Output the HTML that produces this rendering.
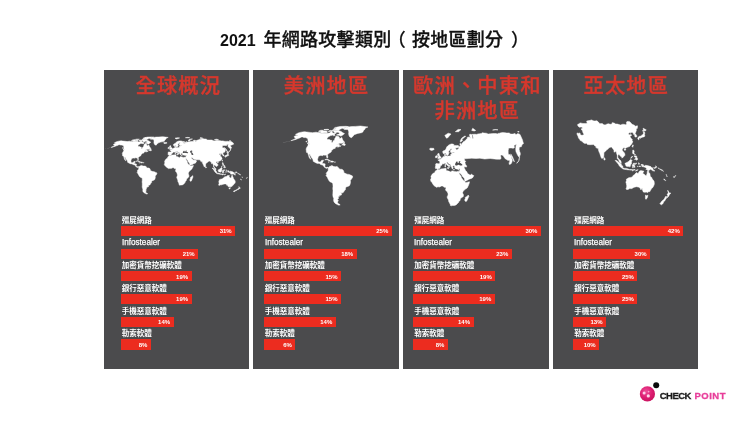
<!DOCTYPE html>
<html lang="zh-Hant"><head><meta charset="utf-8"><title>2021 年網路攻擊類別</title>
<style>
html,body{margin:0;padding:0;background:#fff;}
body{width:750px;height:422px;position:relative;overflow:hidden;font-family:"Liberation Sans","Noto Sans CJK TC",sans-serif;}
.abs{position:absolute;}
.title{position:absolute;left:220px;top:27px;font-size:18px;font-weight:500;-webkit-text-stroke:0.3px #111;color:#111;white-space:nowrap;line-height:26px;letter-spacing:0.3px;}
.title .num{font-size:16px;font-weight:700;-webkit-text-stroke:0;letter-spacing:0;display:inline-block;width:43.4px;}
.title .par{display:inline-block;width:20.4px;text-align:center;font-weight:500;-webkit-text-stroke:0.2px #111;font-size:18px;letter-spacing:0;position:relative;top:0px;}
.title .par i{font-style:normal;position:relative;}
.panel{position:absolute;top:70px;height:299px;background:#4b4b4d;}
.pt{position:absolute;left:0;right:0;text-align:center;color:#d6382d;font-size:20.3px;letter-spacing:1.15px;text-indent:1.15px;line-height:25px;font-weight:500;-webkit-text-stroke:0.35px #d6382d;white-space:nowrap;}
.bar{position:absolute;height:10.3px;background:#ec2c1f;}
.lab{position:absolute;color:#fff;font-size:7.5px;line-height:9px;font-weight:700;white-space:nowrap;}
.lab.en{font-size:9.1px;font-weight:400;transform:scaleX(0.893);transform-origin:0 0;-webkit-text-stroke:0.25px #fff;}
.pc{position:absolute;color:#fff;font-size:6px;line-height:10px;font-weight:700;text-align:right;white-space:nowrap;}
svg{position:absolute;left:0;top:0;}
</style></head><body>
<div class="title"><span class="num">2021 </span>年網路攻擊類別<span class="par"><i style="left:-5px">（</i></span>按地區劃分<span class="par"><i style="left:6.5px">）</i></span></div>
<div class="panel" style="left:104px;width:145px;"><div class="pt" style="top:3.7px;left:2.6px;">全球概況</div></div>
<div class="panel" style="left:253px;width:146px;"><div class="pt" style="top:3.7px;left:0px;">美洲地區</div></div>
<div class="panel" style="left:403px;width:146px;"><div class="pt" style="top:3.7px;left:1.6px;">歐洲、中東和</div><div class="pt" style="top:28.7px;left:1.6px;">非洲地區</div></div>
<div class="panel" style="left:553px;width:145px;"><div class="pt" style="top:3.7px;left:0.6px;">亞太地區</div></div>
<svg width="750" height="422" viewBox="0 0 750 422"><defs><filter id="soft" x="-5%" y="-5%" width="110%" height="110%"><feGaussianBlur stdDeviation="0.35"/></filter></defs>
<g class="map-world" filter="url(#soft)"><path d="M114.5,142.8 116.6,141.7 118.6,141.2 121.1,140.8 122.8,141.1 125.4,141.3 127.1,141.6 129.8,141.2 130.6,141.4 132.1,141.5 133.4,141.9 135.0,142.0 136.7,141.9 138.3,142.0 139.7,141.8 141.0,140.7 141.5,140.6 141.9,141.7 142.7,141.9 143.7,141.4 144.7,141.4 144.7,141.9 142.9,142.6 141.7,143.4 140.5,143.6 139.0,144.5 137.9,145.5 138.1,146.4 139.6,146.6 140.5,147.1 141.5,147.2 141.1,148.1 141.6,148.8 142.1,148.5 142.5,147.4 143.5,146.8 143.7,145.8 144.1,145.1 144.4,144.1 145.8,144.1 147.0,144.7 146.8,145.5 147.6,145.8 148.6,145.1 148.8,145.0 149.3,146.2 149.7,147.0 150.5,147.9 150.8,148.5 149.8,148.8 148.9,149.3 147.0,149.3 146.2,149.6 144.8,150.4 146.9,149.8 146.8,150.6 148.0,151.1 148.5,150.8 148.0,151.3 147.1,151.6 145.8,152.1 146.0,151.5 145.6,151.5 144.3,152.0 143.8,152.7 144.0,152.9 142.5,153.3 142.1,153.8 141.4,154.2 141.1,154.8 141.0,155.5 140.4,155.9 139.5,156.4 138.5,157.2 138.2,157.8 138.5,159.2 138.3,159.8 137.8,159.7 137.5,158.8 137.5,158.1 137.1,157.8 136.5,157.9 135.5,157.7 134.8,157.8 134.9,158.2 134.1,158.1 132.9,158.0 131.6,158.7 131.3,159.5 130.8,161.0 131.3,162.5 131.9,162.8 133.0,162.6 133.7,162.0 133.9,161.6 135.3,161.4 134.9,162.5 134.5,163.1 134.2,163.8 135.4,163.8 136.5,164.2 136.2,165.8 136.7,166.6 137.3,166.8 138.0,166.5 138.9,166.9 138.8,167.3 138.4,166.9 137.7,167.4 137.1,167.2 136.4,167.0 135.6,166.3 135.3,165.6 134.7,165.0 133.6,164.7 132.8,164.4 132.0,163.7 131.0,163.9 129.8,163.4 128.8,162.9 127.6,162.3 127.5,161.4 127.2,160.6 126.5,159.8 126.1,159.0 125.5,158.2 125.3,157.3 124.7,157.1 124.5,157.8 125.1,158.9 125.5,159.9 125.9,160.8 125.7,160.8 125.0,160.1 124.4,159.0 124.2,158.1 123.9,157.2 123.8,156.7 123.4,156.1 122.7,155.9 122.5,154.9 122.5,154.5 122.3,153.5 122.8,152.3 123.7,151.0 123.9,150.1 124.6,150.0 124.8,149.7 124.3,149.2 123.7,148.7 124.0,148.1 123.7,147.4 123.8,146.8 123.5,146.0 123.0,145.5 122.1,145.1 120.6,145.0 119.8,144.7 118.9,144.7 117.5,145.4 116.3,145.8 114.7,146.4 113.0,146.9 111.2,147.4 112.4,146.8 114.3,146.2 115.2,145.6 113.9,145.6 114.1,145.1 113.5,144.7 113.6,144.3 114.6,143.8 116.0,143.6 116.4,143.2 115.4,143.2 114.7,143.0ZM146.4,140.0 147.5,140.3 148.7,140.9 149.6,141.6 150.8,142.2 149.8,143.0 148.8,143.9 148.0,144.1 146.9,143.4 144.9,143.2 146.6,142.6 147.4,141.9 146.1,141.2 143.8,141.2 142.8,140.9 143.2,140.1 144.9,140.0ZM133.0,141.6 134.2,141.7 135.9,141.7 138.0,141.6 138.0,140.6 136.7,140.2 134.5,140.2 133.3,140.7ZM131.5,140.6 132.2,140.8 133.8,140.6 135.2,139.9 134.1,139.7 132.6,139.9ZM144.1,139.1 147.1,139.2 148.8,138.6 150.4,138.1 153.9,137.2 151.9,136.9 147.5,137.1 145.0,137.6 145.5,138.2ZM142.1,139.6 146.6,139.7 147.0,139.2 143.5,139.1ZM135.5,139.6 138.6,139.6 139.3,139.2 138.0,139.1 135.6,139.2ZM142.8,138.6 145.3,138.5 146.0,137.7 144.0,137.7ZM138.8,140.7 140.4,140.7 141.3,140.1 140.2,139.9 139.2,140.2ZM141.1,140.5 142.8,140.4 143.2,139.9 141.6,139.9ZM141.9,143.0 142.9,143.9 143.9,143.4 143.2,142.6ZM148.9,150.3 150.3,150.7 151.2,150.7 151.4,150.3 151.3,149.6 150.5,149.3 150.8,148.7 150.2,148.9 149.6,149.6ZM123.2,149.0 124.2,149.3 124.4,150.0 123.7,149.9ZM122.4,147.7 122.9,147.7 122.6,148.4 122.3,148.1ZM149.8,138.5 150.7,139.2 153.2,139.2 153.9,140.2 154.0,141.2 153.9,142.2 154.1,143.4 154.8,144.7 156.0,145.2 157.0,144.3 158.0,143.0 160.6,142.1 163.4,141.6 164.5,141.1 164.7,140.2 165.8,139.2 166.3,138.2 168.2,137.4 165.4,137.1 162.7,136.7 158.9,137.0 156.0,137.1 153.8,137.4 152.1,137.7 151.5,138.2ZM138.9,166.9 139.7,166.0 140.8,165.7 141.4,165.3 141.4,165.9 142.0,165.5 142.9,166.1 144.3,166.1 145.4,166.0 146.2,166.9 147.5,168.0 148.7,168.0 149.8,168.6 150.4,169.9 150.4,170.5 151.3,170.9 152.8,171.6 154.2,171.7 155.7,172.4 156.7,172.8 156.9,173.7 156.0,175.2 155.2,176.0 155.3,177.7 154.9,179.0 154.5,179.8 153.7,180.2 152.5,180.7 151.5,181.5 151.6,182.6 150.7,183.6 149.9,184.9 149.0,185.2 148.0,184.9 148.7,185.9 148.4,186.7 146.9,187.0 147.0,187.8 145.9,187.8 146.5,188.6 146.2,189.5 145.5,190.0 146.3,190.7 145.7,191.7 145.8,192.5 146.1,192.7 147.7,193.7 146.7,194.0 145.5,193.6 144.0,192.7 143.0,191.7 142.8,190.4 142.9,189.1 142.4,188.1 142.2,186.6 142.3,185.3 142.3,183.6 142.1,181.9 142.3,180.2 142.2,178.3 141.4,177.7 140.0,177.0 139.4,176.3 138.9,175.4 138.1,173.9 137.5,173.0 137.1,172.4 137.6,171.8 137.3,170.9 137.6,170.3 138.1,169.9 138.7,168.8 138.8,167.3ZM136.1,161.3 137.2,160.8 138.3,160.8 139.5,161.4 140.2,161.8 140.6,162.0 139.2,162.1 139.1,161.7 138.6,161.4 137.4,161.1 136.5,161.3ZM140.4,162.7 141.1,162.1 141.6,162.1 142.3,162.2 142.9,162.6 142.3,162.8 141.6,163.0 141.2,162.8ZM138.8,162.7 139.6,162.8 139.2,163.0ZM143.4,162.7 144.1,162.7 144.0,162.9 143.4,162.9ZM168.1,154.8 167.9,154.1 168.2,153.2 168.1,152.3 168.6,152.0 170.1,152.1 171.0,152.1 171.2,151.5 171.2,151.0 170.7,150.5 169.9,150.2 170.0,149.9 171.1,149.9 171.1,149.5 171.2,149.6 171.8,149.6 172.3,149.3 172.3,148.9 173.0,148.7 173.4,148.3 173.6,148.0 174.3,147.9 174.9,147.7 174.9,147.2 174.7,146.6 174.8,146.3 175.5,146.1 175.5,146.6 175.4,147.1 175.8,147.5 176.3,147.5 176.9,147.7 177.8,147.4 178.5,147.4 178.9,147.5 179.4,147.2 179.3,146.4 179.8,146.1 180.5,146.3 180.4,145.8 180.1,145.5 181.0,145.3 181.7,145.3 182.4,145.1 181.8,144.9 180.9,145.0 179.9,145.2 179.3,144.9 179.2,144.3 179.2,143.8 180.1,143.1 180.3,142.8 179.7,142.7 179.2,142.8 179.0,143.2 178.3,143.8 177.8,144.5 177.8,144.9 178.4,145.2 178.0,145.7 177.7,146.2 177.5,146.7 176.9,147.0 176.5,147.1 176.3,146.7 175.8,145.8 175.5,145.4 175.1,145.6 174.4,146.0 173.7,145.7 173.5,144.9 173.5,144.3 174.1,143.9 175.0,143.6 175.6,143.0 176.1,142.4 176.5,141.9 177.3,141.6 178.1,141.2 179.2,141.0 180.0,140.9 180.8,140.9 181.8,141.1 181.6,141.3 182.6,141.4 183.6,141.5 185.1,142.0 185.6,142.3 185.2,142.5 184.6,142.5 183.2,142.3 182.6,142.2 183.5,142.8 183.7,143.3 184.5,143.4 184.7,143.1 185.4,143.2 185.3,142.7 185.9,142.4 186.7,142.5 186.4,142.1 186.1,141.7 187.0,141.8 187.2,142.2 187.7,142.0 189.3,141.7 189.8,141.8 190.9,141.6 191.7,141.6 191.7,141.3 193.0,141.5 193.9,141.6 194.5,141.8 193.8,141.4 193.4,141.0 193.6,140.4 193.9,140.1 194.8,140.3 195.3,140.9 195.5,141.6 196.0,142.1 196.3,141.7 195.9,140.9 195.3,140.6 195.7,140.4 196.6,140.5 197.4,140.5 197.2,140.1 198.5,140.0 198.8,139.6 199.6,139.4 201.0,139.2 202.3,139.1 203.1,138.7 204.3,138.9 206.0,139.1 206.9,139.4 206.4,139.9 207.4,140.0 209.1,140.1 210.9,140.0 211.9,140.1 213.4,140.7 214.3,141.0 214.7,140.7 216.3,140.7 216.4,140.3 218.2,140.5 220.1,140.7 221.4,140.9 223.0,140.9 224.3,141.3 226.0,141.4 227.5,141.3 228.2,141.6 229.5,141.3 231.2,141.6 233.2,142.9 233.2,143.2 233.8,144.1 232.7,144.4 232.2,145.1 230.7,145.1 230.5,146.0 231.0,146.8 231.4,147.3 231.4,148.1 230.9,148.2 230.9,149.0 229.5,148.1 228.2,146.8 228.0,146.0 228.1,145.0 228.5,144.1 227.8,144.4 226.7,144.5 227.0,145.3 226.1,145.5 224.6,145.4 222.8,145.4 222.4,146.2 222.3,147.2 222.5,147.7 223.8,147.9 224.7,148.5 224.9,149.1 225.4,150.2 225.2,151.0 224.8,151.9 224.1,152.4 223.3,152.4 223.2,152.6 223.1,152.7 223.2,153.4 222.6,153.8 223.3,154.4 224.1,155.3 224.1,155.7 223.1,155.9 222.8,155.3 222.7,154.6 221.9,154.4 221.7,153.8 221.2,153.6 220.2,153.4 220.2,154.0 220.0,153.2 219.3,153.9 218.8,154.1 219.6,154.7 220.4,154.6 221.1,154.8 220.4,155.3 220.1,155.7 220.9,156.5 221.7,157.2 221.5,157.6 222.0,157.9 222.0,158.7 221.5,159.5 220.9,160.2 220.4,160.8 219.4,161.1 218.2,161.5 217.9,161.9 217.6,161.4 216.9,161.4 216.4,162.0 216.1,162.5 216.8,163.3 217.7,164.2 218.0,165.2 217.5,165.8 217.0,166.1 216.3,166.8 216.2,166.3 215.4,165.8 214.9,165.2 214.4,164.9 214.0,164.9 213.8,165.8 213.9,166.5 214.4,167.1 214.6,167.6 215.2,168.0 215.7,168.6 215.8,169.4 216.1,169.9 215.7,170.0 214.8,169.3 214.5,168.4 214.3,167.8 213.8,167.2 213.5,167.0 213.5,166.3 213.5,165.4 213.0,164.2 212.8,163.5 212.2,163.4 211.5,163.7 211.5,162.9 211.0,162.1 210.2,161.4 210.1,161.0 209.6,161.1 209.0,161.3 208.1,161.5 208.0,162.0 207.4,162.3 206.4,163.3 205.6,163.9 205.6,165.0 205.6,166.1 205.2,166.6 204.9,166.8 204.6,167.1 204.2,166.7 203.7,165.6 203.2,164.4 202.7,163.5 202.3,162.5 202.2,161.6 201.9,161.6 201.5,161.7 200.6,161.1 201.1,160.8 200.3,160.6 199.8,160.1 199.4,159.8 197.3,159.8 195.8,159.7 195.3,159.1 194.3,159.2 193.5,158.9 192.5,158.0 191.9,157.6 191.5,157.8 191.7,158.4 192.5,159.2 192.6,159.7 193.0,159.5 193.2,160.1 194.2,160.3 195.0,159.4 195.3,160.1 196.1,160.5 196.7,161.0 196.2,161.8 196.0,162.5 195.5,162.9 194.9,163.3 193.6,163.7 192.4,164.5 190.8,165.1 190.1,165.1 189.7,164.2 189.6,163.4 188.9,162.5 188.0,161.4 187.8,160.6 187.1,159.7 186.2,158.7 186.1,158.0 185.9,158.7 185.6,158.5 185.1,157.8 185.0,157.3 185.7,157.3 185.9,156.8 186.2,156.1 186.3,155.4 186.2,154.9 185.6,154.9 184.8,155.2 184.0,155.1 183.4,155.1 182.8,154.8 182.3,154.2 182.4,153.8 182.1,153.6 182.0,153.2 181.2,153.2 181.1,153.6 180.7,153.4 180.9,154.0 181.3,154.4 181.0,154.6 181.0,155.1 180.6,155.0 180.3,154.6 180.1,154.0 179.5,153.5 179.4,152.8 179.0,152.5 178.0,152.1 177.6,151.7 177.2,151.4 177.0,151.2 176.5,151.3 176.6,151.9 177.1,152.1 177.6,152.7 178.1,152.8 179.1,153.5 178.9,153.6 178.5,153.4 178.3,153.8 178.6,154.0 178.1,154.4 178.0,154.4 178.1,154.0 177.9,153.6 177.5,153.3 176.9,153.1 176.2,152.6 175.7,152.1 175.2,151.8 174.6,152.0 174.3,152.3 173.7,152.1 173.2,152.1 172.9,152.5 173.0,152.8 172.1,153.2 171.7,153.7 171.6,154.1 171.4,154.6 170.9,154.9 169.9,155.0 169.5,155.3 169.2,155.0 168.9,154.8ZM169.3,155.4 170.9,155.6 172.1,155.1 173.7,154.9 175.7,154.7 176.1,154.9 175.9,156.1 176.2,156.5 177.8,156.8 179.5,157.7 179.9,157.4 180.1,156.7 181.1,156.7 181.9,157.1 183.6,157.4 184.8,157.3 185.1,157.9 185.6,158.7 186.3,160.1 187.2,161.6 187.4,162.7 188.2,163.9 189.0,164.8 190.0,165.2 190.1,165.6 190.8,166.1 192.0,165.8 193.4,165.5 193.3,166.1 192.5,167.8 191.7,169.2 190.4,170.3 189.4,171.3 188.7,172.2 188.3,173.2 188.5,174.3 188.9,175.2 188.9,176.8 187.7,177.9 186.6,179.0 186.4,180.4 185.4,181.3 185.3,182.1 184.5,183.2 183.3,184.4 182.2,184.9 180.7,185.0 179.8,185.2 179.2,185.0 179.1,184.0 178.5,182.6 177.9,181.5 177.8,180.0 177.0,178.3 176.7,177.3 177.4,175.6 177.3,174.3 176.9,173.0 176.7,172.4 175.7,171.6 175.5,170.7 175.7,170.1 175.9,169.2 175.4,168.6 174.7,168.6 174.0,168.3 173.6,167.8 172.6,167.8 171.1,168.4 170.0,168.3 168.5,168.6 167.7,168.0 166.8,167.5 166.1,166.7 165.4,165.9 164.6,165.3 164.3,164.3 164.7,163.5 164.8,162.5 164.6,161.6 165.0,160.6 165.7,159.5 166.3,158.8 166.9,158.5 167.6,158.0 167.7,157.2 168.2,156.4 168.9,156.0ZM192.6,175.6 193.0,177.1 192.5,177.9 192.0,179.4 191.3,181.1 190.4,181.3 189.9,180.4 189.9,179.6 190.4,178.7 190.2,177.7 190.9,177.3 191.8,176.6ZM169.6,149.3 170.4,149.2 171.7,149.0 172.2,148.8 172.0,148.7 172.3,148.2 171.8,148.1 171.7,147.8 171.3,147.4 171.1,146.9 170.6,146.8 171.0,146.1 170.3,146.1 170.6,145.7 169.9,145.7 169.5,146.2 169.7,146.8 169.9,147.3 170.5,147.3 170.6,147.9 170.0,148.0 170.0,148.5 169.7,148.6 170.4,148.7 170.5,148.8ZM167.9,148.6 168.7,148.6 169.3,148.4 169.5,147.9 169.6,147.4 168.9,147.1 168.6,147.4 168.0,147.6 168.2,148.1ZM163.5,142.8 164.1,143.4 165.1,143.6 166.5,143.3 167.1,142.9 166.6,142.5 165.6,142.5 164.1,142.4ZM175.0,138.2 176.3,138.9 177.5,138.7 178.3,138.4 179.6,137.9 177.5,137.7ZM188.4,140.9 189.3,141.0 190.3,140.7 189.5,140.2 190.4,139.6 192.5,139.0 191.8,138.9 189.6,139.2 188.5,140.1ZM199.9,138.2 201.8,138.6 202.9,138.2 200.7,137.6ZM214.4,139.6 216.7,139.9 218.5,139.6 216.4,139.2ZM185.4,137.7 187.9,137.9 189.7,137.6 187.6,137.4ZM229.6,140.9 230.6,140.9 230.5,140.7 229.5,140.7ZM224.2,147.5 225.5,148.5 226.4,149.6 227.0,150.8 226.8,151.0 225.9,149.8 224.9,148.5ZM176.7,154.4 177.9,154.3 177.8,155.0 176.7,154.6ZM175.0,153.2 175.5,153.2 175.5,153.9 175.1,154.0ZM175.1,152.5 175.4,152.3 175.5,152.9 175.1,152.8ZM181.2,155.5 182.4,155.6 181.4,155.7ZM184.8,155.7 185.7,155.4 185.3,155.8ZM228.7,151.7 229.9,151.0 230.4,150.2 230.8,149.1 230.6,149.1 230.3,150.3 229.8,151.2 228.8,151.8ZM227.1,152.9 227.4,152.5 228.3,152.7 228.8,152.2 228.0,151.8 226.8,151.3 227.3,152.2 226.8,152.4ZM225.0,156.1 225.5,156.2 226.6,155.9 227.1,156.3 227.4,155.8 228.1,155.8 228.5,155.6 228.7,155.4 228.3,154.4 228.4,153.8 227.8,153.0 227.4,153.2 227.5,153.7 227.6,154.2 227.1,154.8 226.8,154.8 226.7,155.3 225.6,155.5 225.0,155.9ZM224.7,156.3 225.4,156.2 225.6,157.2 225.3,157.3 224.9,156.8ZM225.7,156.1 226.4,156.0 226.5,156.4 226.0,156.6ZM222.3,159.8 222.5,160.0 222.3,161.2 221.9,160.8ZM217.5,162.0 218.3,162.0 218.2,162.7 217.5,162.7ZM205.7,166.4 206.5,167.3 206.1,168.0 205.7,168.0 205.6,167.1ZM222.4,162.7 223.1,162.7 223.3,163.5 223.1,164.2 223.6,164.6 224.2,165.1 224.0,165.1 223.3,164.7 222.8,164.7 222.4,164.2 222.4,163.5ZM223.6,167.5 224.2,166.9 225.0,166.4 225.4,167.1 225.3,167.8 225.0,168.1 224.4,167.6ZM223.4,165.5 224.3,165.6 224.9,165.8 224.8,166.3 224.1,166.5 223.7,166.3ZM221.5,166.9 222.4,166.1 222.3,165.7 221.4,166.8ZM218.1,169.9 218.5,169.8 219.1,169.4 219.8,169.1 220.4,168.5 221.0,167.8 221.4,167.5 221.7,167.8 222.3,168.3 221.9,168.7 221.8,169.2 222.0,170.1 221.8,170.5 221.3,171.1 221.2,172.0 220.6,172.2 220.2,171.9 219.4,171.9 218.6,171.7 218.5,171.0 218.1,170.5ZM212.2,168.1 213.2,168.3 214.3,169.2 214.9,169.7 215.8,170.5 216.2,171.3 216.8,171.9 216.7,173.0 216.1,173.0 215.2,172.2 214.7,171.6 214.4,170.9 213.9,170.2 213.4,169.4 212.8,168.9ZM216.5,173.4 217.0,173.0 217.8,173.2 218.8,173.2 219.6,173.5 220.4,173.8 220.3,174.2 218.8,174.0 217.6,173.8 216.9,173.6ZM220.6,174.0 221.4,174.0 222.2,174.1 223.1,174.1 223.9,174.0 223.9,174.2 222.7,174.3 221.4,174.3 220.5,174.2ZM224.1,174.9 224.8,174.3 225.7,174.1 225.4,174.4 224.5,174.8ZM222.2,174.5 223.0,174.6 222.6,174.9ZM222.7,170.6 222.9,170.2 223.2,170.0 224.1,170.1 224.9,169.8 224.7,170.3 224.1,170.3 223.2,170.3 222.9,170.9 223.4,170.9 224.2,170.8 224.0,171.1 223.4,171.3 223.8,171.9 224.0,172.4 223.8,172.7 223.5,172.5 223.2,171.8 222.9,172.0 222.9,172.8 222.5,172.8 222.6,172.0 222.3,171.7 222.5,171.0ZM226.0,169.7 226.4,169.9 226.5,170.4 226.2,170.8 226.1,170.3ZM226.2,171.8 227.4,171.9 227.0,172.1 226.3,172.0ZM225.3,171.9 225.8,171.9 225.8,172.1 225.3,172.1ZM227.5,170.8 228.1,170.7 228.8,170.8 229.2,171.9 230.3,171.3 231.7,171.6 233.2,172.1 233.8,172.8 234.6,173.0 234.2,173.4 234.8,174.3 235.6,174.9 234.9,174.9 234.1,174.6 233.1,173.8 232.4,174.3 231.6,174.3 230.8,173.9 230.3,174.1 230.7,173.4 230.4,172.8 229.4,172.4 228.5,172.1 228.2,172.2 227.9,171.7 228.6,171.5 228.0,171.4 227.5,171.1ZM234.8,172.9 235.5,172.8 236.2,172.3 236.5,172.3 236.3,172.8 235.7,173.1 235.1,173.1ZM235.9,171.6 236.4,171.9 236.8,172.4 236.7,172.5 236.2,171.9ZM237.5,172.8 237.9,173.2 237.8,173.4 237.5,173.0ZM238.2,173.5 238.6,173.7 239.5,174.0 239.6,174.1 238.8,174.0 238.2,173.6ZM239.5,174.4 239.9,174.6 239.6,174.7ZM240.0,174.1 240.3,174.5 240.0,174.5ZM240.2,174.9 240.5,175.1 240.3,175.1ZM242.1,176.8 242.3,177.1 242.1,177.1ZM242.3,177.3 242.6,177.9 242.3,177.6ZM240.5,179.0 241.1,179.4 241.6,179.9 241.3,180.0 240.8,179.6 240.5,179.2ZM246.4,177.9 246.9,177.9 246.8,178.2 246.3,178.2ZM247.1,177.5 247.6,177.4 247.4,177.6ZM219.2,179.8 219.4,179.7 220.6,179.2 221.7,179.0 222.7,178.7 223.2,177.9 223.7,177.8 224.5,177.1 225.2,176.4 225.8,176.8 226.4,176.8 226.7,176.0 227.2,175.7 227.9,175.4 229.1,175.6 229.6,175.7 229.2,176.2 228.9,176.8 229.7,177.3 230.4,177.9 231.0,177.9 231.5,176.8 231.6,175.9 232.1,175.1 232.5,175.8 232.5,176.5 233.1,176.8 233.2,177.9 233.3,178.5 234.0,179.0 234.3,179.8 234.7,180.2 235.2,181.1 235.2,181.9 235.2,182.6 234.6,183.6 233.8,184.5 233.1,185.0 232.5,185.7 232.0,186.4 231.2,186.5 230.3,187.0 230.0,186.7 229.4,186.7 228.6,186.7 228.1,186.6 228.0,185.9 227.8,185.5 227.8,185.0 228.0,184.5 227.5,184.9 227.2,185.4 226.8,185.3 226.8,184.9 226.5,184.4 225.8,184.0 224.6,183.9 223.3,184.2 222.3,184.5 222.0,184.8 220.6,184.8 219.6,185.3 218.8,185.3 218.5,185.0 219.0,184.0 219.1,183.2 218.9,182.1 218.8,181.5 219.2,180.7ZM229.2,187.7 229.8,187.9 230.6,187.8 230.2,188.4 229.4,188.9 229.0,188.9 229.0,188.5ZM238.9,186.6 239.1,186.8 239.3,187.4 239.5,187.5 239.5,187.9 240.3,187.9 240.5,187.9 239.8,188.6 239.4,188.6 239.1,189.0 238.1,189.6 237.9,189.5 238.5,189.0 238.2,188.7 238.2,188.6 238.7,188.3 239.0,187.8 238.9,187.0ZM237.4,189.1 237.8,189.4 237.6,189.7 236.7,190.2 236.4,190.5 235.7,190.7 235.2,191.2 234.8,191.5 234.0,191.7 233.6,191.5 233.3,191.4 234.0,191.0 234.7,190.6 235.8,190.2 236.5,189.8 237.0,189.3Z" fill="#fff" stroke="#fff" stroke-width="0.5" stroke-linejoin="round"/><path d="M182.7,152.5 182.9,151.9 183.3,151.4 183.5,151.0 184.0,150.8 184.7,151.0 184.4,151.3 184.8,151.7 185.4,151.5 185.9,151.3 185.3,151.0 186.4,150.6 186.8,150.6 186.3,151.2 186.3,151.6 187.2,152.0 188.1,152.5 188.1,152.9 187.4,153.2 186.4,153.1 185.7,152.9 184.9,152.7 184.2,153.1 183.2,153.1 182.8,152.8ZM190.0,151.5 190.7,150.8 191.6,150.6 192.2,150.8 192.4,151.5 191.6,151.7 191.5,152.3 192.4,152.7 192.8,153.4 193.2,154.0 193.4,154.8 192.3,155.0 191.4,154.6 191.3,154.0 191.4,153.4 190.4,152.5Z" fill="#4b4b4d"/><path d="M111.3,147.3 109.8,147.7 108.3,148.1 106.5,148.4 105.2,148.5 105.1,148.7 106.4,148.5 108.1,148.3 109.5,148.0 111.1,147.5Z" fill="#fff" opacity="0.45"/></g>
<g class="map-amer" filter="url(#soft)"><path d="M295.5,134.4 298.3,132.9 301.1,132.2 304.4,131.7 306.7,132.0 310.2,132.4 312.5,132.7 316.1,132.2 317.2,132.5 319.3,132.6 320.9,133.2 323.1,133.3 325.4,133.2 327.6,133.3 329.5,133.1 331.3,131.6 331.9,131.3 332.4,132.8 333.5,133.2 334.9,132.5 336.2,132.5 336.2,133.2 333.8,134.1 332.2,135.3 330.6,135.6 328.5,136.7 327.0,138.2 327.3,139.4 329.4,139.6 330.5,140.3 331.9,140.5 331.4,141.7 332.0,142.7 332.7,142.3 333.3,140.8 334.6,139.9 334.8,138.5 335.5,137.6 335.9,136.3 337.8,136.3 339.3,137.0 339.1,138.2 340.1,138.6 341.5,137.6 341.8,137.4 342.4,139.1 342.9,140.2 344.0,141.4 344.4,142.3 343.1,142.7 341.9,143.3 339.4,143.3 338.2,143.9 336.3,144.9 339.2,144.0 339.1,145.2 340.7,145.9 341.3,145.5 340.6,146.2 339.5,146.6 337.7,147.3 337.9,146.4 337.4,146.5 335.6,147.1 335.1,148.1 335.3,148.3 333.2,148.9 332.8,149.6 331.8,150.2 331.3,151.1 331.3,151.9 330.4,152.5 329.2,153.2 327.8,154.3 327.5,155.1 327.9,157.0 327.5,158.0 326.9,157.8 326.5,156.5 326.6,155.6 326.0,155.1 325.1,155.3 323.8,155.0 322.9,155.1 323.0,155.7 322.0,155.6 320.4,155.4 318.5,156.3 318.1,157.5 317.5,159.5 318.2,161.6 319.0,162.1 320.5,161.8 321.4,161.0 321.6,160.4 323.5,160.1 323.0,161.6 322.5,162.5 322.1,163.5 323.7,163.5 325.2,163.9 324.8,166.3 325.4,167.3 326.3,167.6 327.1,167.1 328.4,167.7 328.2,168.3 327.7,167.7 326.8,168.4 325.9,168.1 325.1,167.8 324.0,166.8 323.5,166.0 322.7,165.1 321.3,164.7 320.2,164.2 319.2,163.3 317.7,163.5 316.1,162.9 314.8,162.2 313.2,161.3 313.1,160.1 312.7,159.0 311.7,157.9 311.2,156.7 310.3,155.7 310.1,154.4 309.2,154.2 309.0,155.1 309.8,156.6 310.3,158.1 310.9,159.2 310.7,159.3 309.7,158.3 308.9,156.8 308.7,155.6 308.2,154.3 308.0,153.6 307.6,152.8 306.6,152.5 306.3,151.2 306.3,150.6 306.1,149.1 306.7,147.5 307.9,145.7 308.2,144.4 309.2,144.3 309.4,143.9 308.7,143.3 307.9,142.6 308.3,141.7 307.9,140.8 308.0,139.9 307.7,138.8 307.0,138.2 305.8,137.6 303.7,137.5 302.7,137.0 301.5,137.0 299.6,138.0 298.0,138.5 295.8,139.4 293.6,140.1 291.0,140.7 292.7,139.9 295.3,139.1 296.5,138.3 294.8,138.3 295.0,137.6 294.1,137.0 294.3,136.4 295.7,135.7 297.5,135.6 298.1,135.0 296.7,135.0 295.9,134.7ZM338.5,130.5 340.0,131.0 341.6,131.8 342.8,132.7 344.5,133.6 343.1,134.7 341.7,135.8 340.6,136.1 339.2,135.3 336.5,135.0 338.8,134.1 339.8,133.2 338.2,132.2 335.1,132.2 333.7,131.8 334.2,130.6 336.4,130.5ZM320.5,132.7 322.0,132.9 324.4,132.8 327.2,132.7 327.1,131.3 325.4,130.9 322.4,130.9 320.8,131.6ZM318.5,131.3 319.4,131.7 321.5,131.3 323.4,130.4 321.9,130.2 320.0,130.4ZM335.4,129.3 339.5,129.4 341.8,128.6 343.9,127.9 348.6,126.7 345.9,126.3 339.9,126.5 336.6,127.2 337.3,128.1ZM332.7,129.9 338.8,130.2 339.4,129.5 334.6,129.3ZM323.9,129.9 328.0,130.0 329.0,129.5 327.2,129.3 324.0,129.5ZM333.7,128.6 337.0,128.4 338.0,127.4 335.2,127.4ZM328.2,131.6 330.4,131.6 331.6,130.6 330.2,130.4 328.9,130.9ZM331.3,131.2 333.6,131.1 334.2,130.4 332.1,130.4ZM332.5,134.7 333.7,135.8 335.2,135.3 334.2,134.1ZM341.9,144.8 343.7,145.3 345.0,145.4 345.3,144.8 345.1,143.9 344.1,143.4 344.5,142.5 343.6,142.9 342.8,143.7ZM307.3,143.0 308.6,143.4 308.9,144.4 308.0,144.2ZM306.2,141.1 306.8,141.2 306.4,142.2 306.0,141.7ZM343.1,128.5 344.4,129.5 347.7,129.5 348.6,130.9 348.8,132.2 348.6,133.6 348.9,135.3 349.8,137.0 351.5,137.7 352.8,136.4 354.2,134.7 357.7,133.4 361.5,132.7 362.9,132.0 363.2,130.9 364.7,129.5 365.4,128.1 367.9,127.0 364.1,126.5 360.5,126.0 355.4,126.4 351.4,126.6 348.5,127.0 346.2,127.4 345.4,128.1ZM328.4,167.7 329.5,166.4 330.9,166.1 331.8,165.4 331.7,166.4 332.6,165.8 333.7,166.6 335.7,166.7 337.2,166.4 338.3,167.7 339.9,169.2 341.7,169.3 343.1,170.1 343.9,171.8 343.9,172.7 345.1,173.3 347.1,174.2 349.1,174.4 351.1,175.3 352.4,175.9 352.7,177.1 351.5,179.1 350.4,180.3 350.5,182.6 350.0,184.4 349.5,185.6 348.4,186.2 346.7,186.7 345.4,187.9 345.5,189.4 344.4,190.8 343.2,192.6 341.9,193.1 340.6,192.6 341.6,193.9 341.3,195.1 339.2,195.5 339.3,196.6 337.8,196.7 338.6,197.7 338.2,199.0 337.3,199.6 338.4,200.7 337.5,201.9 337.7,203.1 338.2,203.4 340.2,204.8 339.0,205.2 337.3,204.6 335.3,203.4 334.0,201.9 333.6,200.2 333.8,198.4 333.1,197.0 332.8,194.9 332.9,193.2 333.0,190.8 332.8,188.5 333.0,186.2 332.8,183.5 331.7,182.6 329.9,181.7 329.1,180.8 328.3,179.4 327.4,177.4 326.5,176.2 326.0,175.3 326.7,174.5 326.2,173.3 326.7,172.4 327.4,171.8 328.2,170.4 328.2,168.3ZM324.7,159.9 326.2,159.2 327.6,159.2 329.1,160.1 330.2,160.7 330.6,160.9 328.8,161.1 328.7,160.6 328.0,160.1 326.4,159.7 325.2,159.9ZM330.4,161.9 331.3,161.1 332.0,161.1 333.0,161.2 333.8,161.8 332.9,162.0 332.0,162.3 331.5,162.1ZM328.2,161.9 329.3,162.1 328.8,162.3ZM334.5,161.9 335.4,161.9 335.3,162.2 334.5,162.2Z" fill="#fff" stroke="#fff" stroke-width="0.5" stroke-linejoin="round"/><path d="M291.1,140.6 289.1,141.2 287.2,141.7 284.8,142.1 283.0,142.3 282.8,142.6 284.6,142.3 286.9,142.0 288.8,141.5 290.9,140.9Z" fill="#fff" opacity="0.45"/></g>
<g class="map-emea" filter="url(#soft)"><path d="M435.5,168.6 435.3,167.3 435.7,165.6 435.6,164.1 436.2,163.5 438.3,163.7 439.5,163.8 439.8,162.6 439.8,161.7 439.1,160.8 438.0,160.3 438.1,159.9 439.6,159.8 439.5,159.0 439.8,159.2 440.5,159.2 441.2,158.7 441.3,158.2 442.2,157.9 442.7,157.2 442.9,156.8 443.9,156.6 444.6,156.4 444.7,155.7 444.4,154.8 444.5,154.4 445.5,154.0 445.4,154.8 445.3,155.5 445.8,156.1 446.6,156.1 447.3,156.3 448.6,156.0 449.5,155.9 450.0,156.1 450.8,155.7 450.6,154.5 451.3,154.0 452.2,154.3 452.1,153.7 451.6,153.1 452.8,152.9 453.8,152.9 454.7,152.6 453.9,152.3 452.7,152.4 451.4,152.7 450.6,152.3 450.4,151.4 450.4,150.6 451.6,149.7 451.9,149.0 451.1,148.8 450.4,149.0 450.2,149.8 449.2,150.6 448.5,151.7 448.6,152.3 449.4,152.7 448.8,153.4 448.4,154.2 448.2,155.0 447.4,155.4 446.8,155.5 446.6,155.0 445.8,153.5 445.4,153.0 445.0,153.3 444.0,153.8 443.1,153.4 442.8,152.3 442.7,151.4 443.7,150.7 444.8,150.3 445.7,149.5 446.3,148.1 446.9,146.8 447.9,145.8 449.0,144.9 450.4,144.3 451.5,143.9 452.6,144.0 454.0,144.6 453.6,145.2 454.9,145.5 456.3,145.4 458.3,145.6 459.0,146.3 458.5,147.2 457.6,147.8 455.7,147.9 455.0,147.7 456.1,149.0 456.4,149.9 457.5,149.7 457.8,149.0 458.8,148.7 458.6,147.6 459.4,146.4 460.4,146.1 460.1,144.8 459.7,143.8 460.9,143.5 461.1,144.9 461.9,143.6 463.9,141.3 464.7,141.2 466.1,139.5 467.2,138.8 467.2,137.4 468.9,137.0 470.1,137.6 470.9,138.4 469.9,136.6 469.5,135.2 469.7,134.3 470.1,134.3 471.3,134.3 472.0,135.0 472.2,137.3 472.9,139.3 473.3,138.0 472.8,135.0 472.0,134.2 472.5,134.3 473.7,134.3 474.7,134.3 474.5,134.3 476.3,134.3 476.7,134.4 477.7,134.0 479.6,133.8 481.4,133.4 482.4,132.7 484.0,133.1 486.3,133.2 487.5,133.8 486.8,134.1 488.2,134.0 490.4,133.8 492.8,133.6 494.2,133.5 496.1,133.6 497.4,134.1 497.9,133.4 500.0,133.2 500.2,132.9 502.6,132.6 505.2,132.8 506.9,133.1 509.1,132.9 510.7,134.1 513.0,134.1 515.0,133.4 516.0,134.8 517.8,133.5 520.0,134.4 522.6,140.2 522.7,141.1 523.5,143.6 522.1,144.5 521.3,146.8 519.4,146.9 519.1,149.3 519.7,151.7 520.3,153.1 520.2,155.3 519.6,155.5 519.6,157.9 517.7,155.3 516.0,151.8 515.7,149.4 515.9,146.6 516.4,144.2 515.5,144.8 514.0,145.3 514.4,147.7 513.2,148.3 511.1,147.9 508.8,148.1 508.2,150.2 508.2,153.1 508.3,154.2 510.0,154.8 511.3,156.5 511.6,158.2 512.3,160.3 512.0,161.8 511.4,163.3 510.5,164.2 509.4,164.3 509.3,164.5 509.3,164.5 509.4,164.2 508.9,162.7 509.8,162.4 509.5,160.1 508.7,160.2 507.8,160.5 507.1,159.7 505.2,158.8 503.0,155.5 501.8,154.9 500.9,155.1 500.6,156.0 501.1,158.2 500.4,159.2 496.5,159.2 490.1,158.5 484.7,159.0 479.9,158.2 475.9,158.5 471.8,158.2 468.3,158.5 464.3,158.8 464.5,160.3 465.8,161.4 464.9,162.6 465.5,164.4 466.7,165.9 466.6,167.1 466.0,166.7 465.0,167.1 464.2,166.6 464.2,167.8 464.5,168.4 465.1,169.5 465.5,170.5 466.6,171.5 467.1,172.2 466.9,172.2 467.2,172.9 468.2,173.8 468.3,174.3 468.9,174.1 469.1,174.8 470.5,175.0 471.6,174.0 471.9,174.8 473.1,175.2 473.9,175.8 473.2,176.7 472.9,177.4 472.2,177.9 471.4,178.4 469.8,178.9 468.1,179.8 465.9,181.0 465.0,181.0 464.5,179.4 464.4,178.5 463.5,177.4 462.3,176.2 461.9,175.3 461.0,174.3 459.8,173.1 459.6,172.4 459.4,173.1 458.9,173.0 458.4,172.2 458.1,171.6 459.2,171.6 459.4,171.0 459.7,170.3 459.9,169.4 459.8,168.7 459.0,168.7 458.0,169.2 456.9,169.0 456.1,168.9 455.2,168.6 454.6,167.4 454.7,166.7 454.4,166.3 454.2,165.7 453.2,165.7 452.9,166.3 452.5,166.0 452.7,167.1 453.3,167.8 452.8,168.2 452.8,168.9 452.3,168.8 451.9,168.2 451.6,167.1 450.8,166.1 450.7,165.0 450.2,164.4 448.8,163.7 448.2,162.9 447.7,162.4 447.5,162.0 446.8,162.3 446.9,163.3 447.6,163.7 448.3,164.8 449.0,165.0 450.3,166.2 450.0,166.3 449.4,165.9 449.2,166.7 449.6,167.1 449.0,167.8 448.8,167.8 449.0,167.1 448.7,166.3 448.1,165.8 447.3,165.4 446.5,164.6 445.8,163.7 445.1,163.1 444.3,163.5 443.8,164.0 443.0,163.8 442.4,163.7 442.0,164.4 442.1,165.0 440.9,165.6 440.4,166.5 440.2,167.2 440.0,168.0 439.3,168.7 438.0,168.8 437.4,169.3 437.0,168.9 436.6,168.4ZM437.2,169.4 439.3,169.7 440.9,168.9 443.1,168.7 445.8,168.3 446.3,168.7 446.0,170.3 446.4,170.6 448.6,171.1 450.9,172.0 451.4,171.7 451.6,170.9 453.0,170.9 454.1,171.4 456.3,171.7 458.0,171.6 458.3,172.2 459.0,173.2 459.9,174.8 461.2,176.5 461.4,177.7 462.4,179.1 463.6,180.4 464.9,181.2 465.0,182.0 465.9,182.7 467.6,182.2 469.4,181.7 469.4,182.8 468.3,185.8 467.2,187.9 465.5,189.1 464.0,190.2 463.2,191.3 462.6,192.4 462.8,193.6 463.4,194.6 463.4,196.4 461.8,197.6 460.3,198.8 460.1,200.5 458.8,201.4 458.6,202.4 457.5,203.5 456.0,204.9 454.4,205.4 452.4,205.5 451.3,205.8 450.4,205.5 450.3,204.5 449.5,202.9 448.7,201.6 448.5,200.0 447.4,198.1 447.1,196.9 448.1,195.0 448.0,193.6 447.4,192.2 447.1,191.5 445.8,190.5 445.5,189.6 445.8,188.9 446.0,187.9 445.4,187.2 444.4,187.3 443.5,186.8 443.0,186.0 441.5,186.0 439.5,187.0 438.1,186.8 436.1,187.3 435.0,186.2 433.9,185.5 432.8,183.9 432.0,182.5 430.9,181.3 430.5,179.5 431.1,178.6 431.2,177.4 430.9,176.5 431.5,175.3 432.3,174.1 433.2,173.3 434.0,173.0 434.9,172.4 435.1,171.5 435.8,170.6 436.7,170.2ZM468.3,195.0 468.9,196.7 468.3,197.6 467.6,199.3 466.6,201.2 465.5,201.4 464.8,200.5 464.8,199.5 465.4,198.6 465.2,197.4 466.1,196.9 467.3,196.2ZM437.6,158.8 438.6,158.6 440.4,158.3 441.1,158.1 440.8,157.8 441.2,157.1 440.5,156.9 440.4,156.5 439.8,155.9 439.6,155.3 438.9,155.1 439.4,154.1 438.6,154.0 439.0,153.5 438.0,153.5 437.5,154.2 437.7,155.1 437.9,155.8 438.8,155.8 438.9,156.7 438.2,156.8 438.1,157.6 437.8,157.7 438.6,157.9 438.7,158.1ZM435.4,157.7 436.4,157.7 437.2,157.4 437.4,156.6 437.5,155.9 436.7,155.5 436.2,156.0 435.4,156.2 435.7,156.9ZM429.5,149.0 430.3,150.1 431.6,150.4 433.5,149.9 434.2,149.2 433.6,148.3 432.3,148.3 430.2,148.2ZM444.8,135.4 446.5,138.2 448.1,137.5 449.2,136.1 451.0,134.0 448.2,133.2ZM517.9,132.1 519.2,132.0 519.0,131.6 517.7,131.6ZM510.7,153.9 512.4,156.5 513.5,159.2 514.4,161.4 514.1,161.8 512.9,159.6 511.5,156.5ZM447.1,167.8 448.7,167.7 448.6,168.8 447.1,168.1ZM444.8,165.6 445.6,165.6 445.5,166.9 445.0,167.1ZM445.0,164.4 445.4,164.1 445.4,165.2 445.0,165.0ZM453.1,169.5 454.7,169.7 453.4,169.8ZM457.9,169.8 459.1,169.5 458.6,169.9ZM516.7,162.9 518.2,161.8 519.0,160.3 519.4,158.2 519.2,158.2 518.8,160.5 518.1,162.0 516.8,163.2ZM460.3,142.1 461.4,141.6 462.7,139.9 461.7,139.8 462.9,138.5 465.7,136.3 464.8,136.1 461.8,138.1 460.4,140.4ZM471.7,130.4 474.2,131.0 475.7,130.4 472.7,128.3ZM492.6,130.1 495.7,129.8 498.0,129.8 495.2,129.5ZM455.3,131.7 458.5,131.7 461.0,129.6 458.1,129.4Z" fill="#fff" stroke="#fff" stroke-width="0.5" stroke-linejoin="round"/><path d="M455.1,164.4 455.4,163.3 455.9,162.4 456.2,161.7 456.9,161.4 457.8,161.7 457.4,162.2 458.0,162.9 458.8,162.6 459.4,162.3 458.5,161.7 460.0,161.0 460.6,161.1 459.9,162.1 460.0,162.8 461.1,163.5 462.3,164.4 462.4,165.2 461.4,165.6 460.0,165.4 459.2,165.0 458.1,164.8 457.1,165.4 455.8,165.4 455.2,165.0Z" fill="#4b4b4d"/></g>
<g class="map-apac" filter="url(#soft)"><path d="M577.9,126.0 577.7,124.3 578.7,123.9 580.2,122.9 583.0,123.5 585.4,123.5 587.3,123.2 586.6,121.1 589.2,120.6 591.7,119.9 593.2,120.8 594.9,121.1 596.8,120.7 597.9,121.6 599.9,123.7 602.2,123.5 603.8,124.7 605.1,125.0 606.7,124.2 608.3,123.7 610.2,124.3 612.1,123.9 612.0,122.7 614.5,123.1 615.1,123.9 617.5,124.1 620.5,125.0 622.9,124.2 624.9,124.5 625.7,124.8 626.7,123.9 626.4,122.2 627.0,121.6 628.3,121.4 629.8,121.8 632.1,124.3 634.5,125.3 635.1,126.3 636.4,125.9 637.5,125.8 637.3,128.4 636.1,128.7 636.4,130.3 636.3,130.7 635.9,131.0 636.0,132.2 634.8,133.0 635.8,134.3 636.9,135.9 636.8,136.7 635.1,137.1 634.7,135.9 634.7,134.7 633.4,134.3 633.3,133.0 632.4,132.6 630.8,132.2 630.5,133.4 630.3,132.0 628.9,133.3 628.1,133.7 629.3,134.8 630.6,134.6 631.8,135.1 630.6,135.9 630.0,136.7 631.1,138.3 632.3,139.6 631.9,140.4 632.7,141.0 632.5,142.4 631.6,144.1 630.4,145.4 629.5,146.5 627.8,147.1 625.7,147.9 625.0,148.7 624.6,147.7 623.5,147.7 622.5,149.0 622.0,150.0 623.1,151.4 624.5,153.1 625.0,155.1 624.1,156.3 623.3,156.9 622.0,158.2 621.8,157.1 620.5,156.3 619.7,155.1 618.8,154.4 618.2,154.4 617.8,156.3 617.9,157.6 618.8,158.8 619.2,159.6 620.1,160.1 621.0,161.1 621.1,162.4 621.6,163.2 620.9,163.2 619.5,162.2 618.9,160.8 618.6,159.8 617.7,158.9 617.2,158.6 617.3,157.1 617.3,155.5 616.5,153.1 616.3,151.8 615.2,151.6 614.0,152.2 614.0,150.6 613.2,149.1 612.0,147.7 611.8,146.9 610.9,147.1 609.9,147.5 608.5,147.9 608.2,149.0 607.1,149.4 605.3,151.4 603.9,152.6 603.9,154.7 603.7,156.9 603.2,157.7 602.6,158.1 602.1,158.7 601.4,158.0 600.6,155.9 599.8,153.5 599.0,151.8 598.4,149.8 598.2,148.2 597.7,148.2 597.0,148.3 595.6,147.1 596.4,146.5 595.1,146.1 594.2,145.3 593.5,144.6 590.0,144.7 587.5,144.5 586.7,143.2 584.9,143.5 583.4,142.8 581.9,141.2 580.8,140.5 580.4,140.8 579.8,139.6 578.5,137.9 578.0,136.3 577.4,134.9 577.0,134.3 577.0,132.9 578.1,133.4 579.4,133.0 580.2,133.4 580.3,134.7 581.8,135.3 583.7,135.1 583.8,134.7 583.5,133.4 582.8,132.2 582.6,131.2 582.3,130.6 581.0,128.9 582.4,128.5 582.2,127.3 581.1,126.9 579.5,127.3ZM643.0,131.4 643.6,130.6 645.1,131.0 646.3,129.9 645.0,129.2 643.1,128.2 643.5,129.9 642.6,130.3ZM638.3,137.5 639.1,137.7 641.1,137.1 641.8,137.9 642.5,136.9 643.7,136.9 644.5,136.5 644.9,136.1 644.5,134.3 644.9,133.0 644.1,131.6 643.3,131.8 643.4,132.8 643.4,133.8 642.3,135.1 641.8,134.9 641.5,135.9 639.5,136.3 638.3,137.1ZM637.7,137.9 638.9,137.8 639.1,139.6 638.5,139.8 637.9,138.7ZM639.4,137.5 640.8,137.4 640.7,138.1 640.0,138.5ZM632.9,144.7 633.3,145.0 632.8,147.3 632.1,146.5ZM624.3,149.0 625.8,149.0 625.5,150.2 624.3,150.2ZM603.9,157.3 605.3,159.1 604.7,160.1 604.0,160.1 603.8,158.8ZM632.7,150.2 633.9,150.3 634.2,151.8 633.8,153.2 634.7,153.9 635.6,154.9 635.2,154.9 634.1,154.0 633.2,154.0 632.6,153.1 632.7,151.8ZM634.4,159.4 635.4,158.4 636.8,157.3 637.6,158.8 637.3,159.9 636.8,160.3 635.8,159.6ZM634.2,155.7 635.7,155.9 636.8,156.2 636.6,157.1 635.4,157.6 634.7,157.1ZM630.9,158.4 632.5,156.7 632.3,156.1 630.7,158.1ZM625.1,163.1 625.8,163.0 626.7,162.4 627.9,162.0 629.0,160.9 630.1,159.9 630.8,159.4 631.3,159.9 632.3,160.6 631.6,161.2 631.4,162.1 631.6,163.4 631.2,164.1 630.5,165.1 630.3,166.4 629.4,166.8 628.7,166.4 627.2,166.4 625.9,166.0 625.8,165.0 625.1,164.1ZM615.1,160.4 616.7,160.6 618.5,162.1 619.6,162.9 621.1,164.1 621.8,165.4 622.9,166.2 622.7,168.0 621.7,168.0 620.2,166.8 619.2,165.8 618.8,164.8 617.8,163.6 617.1,162.4 616.0,161.6ZM622.3,168.6 623.2,168.1 624.6,168.4 626.3,168.4 627.6,168.8 628.9,169.2 628.8,169.9 626.4,169.6 624.2,169.3 623.1,169.0ZM629.3,169.6 630.7,169.6 632.2,169.7 633.6,169.7 635.1,169.6 635.1,170.0 632.9,170.0 630.7,170.1 629.3,170.0ZM635.4,171.0 636.5,170.1 638.1,169.7 637.6,170.2 636.1,170.9ZM632.1,170.4 633.4,170.6 632.8,171.0ZM632.9,164.2 633.2,163.6 633.8,163.2 635.2,163.4 636.7,163.0 636.3,163.8 635.2,163.8 633.8,163.8 633.2,164.7 634.1,164.7 635.4,164.6 635.1,165.1 634.1,165.4 634.7,166.3 635.2,167.1 634.8,167.6 634.3,167.2 633.7,166.1 633.3,166.4 633.3,167.8 632.6,167.8 632.7,166.4 632.2,166.0 632.5,164.9ZM638.5,162.8 639.2,163.1 639.4,163.9 638.9,164.6 638.6,163.8ZM638.8,166.1 640.9,166.2 640.3,166.6 639.0,166.4ZM637.4,166.2 638.1,166.2 638.1,166.6 637.4,166.6ZM641.0,164.6 642.1,164.4 643.2,164.6 643.9,166.3 645.7,165.3 648.3,165.8 650.8,166.6 651.8,167.8 653.1,168.1 652.5,168.6 653.5,170.1 654.9,171.0 653.8,171.0 652.4,170.6 650.7,169.2 649.5,170.1 648.1,170.2 646.7,169.4 645.9,169.7 646.6,168.6 646.0,167.8 644.2,167.0 642.8,166.6 642.3,166.8 641.7,166.0 643.0,165.7 642.0,165.6 641.0,165.0ZM653.5,167.8 654.7,167.8 655.8,166.9 656.4,167.0 656.0,167.8 655.1,168.2 654.0,168.2ZM655.4,165.9 656.2,166.3 656.9,167.1 656.7,167.2 655.9,166.3ZM658.1,167.8 658.9,168.4 658.7,168.7 658.1,168.1ZM659.4,168.8 660.1,169.1 661.5,169.6 661.7,169.8 660.4,169.6 659.4,169.0ZM661.6,170.3 662.4,170.6 661.8,170.7ZM662.4,169.8 662.9,170.4 662.5,170.4ZM662.9,171.0 663.4,171.3 663.0,171.3ZM666.2,174.5 666.7,175.1 666.3,175.2ZM666.6,175.5 667.2,176.8 666.7,176.1ZM663.8,178.9 664.8,179.5 665.8,180.6 665.4,180.6 664.4,180.0 663.8,179.2ZM673.7,176.6 674.6,176.7 674.6,177.3 673.6,177.3ZM674.9,176.0 675.8,175.6 675.4,176.2ZM667.7,190.3 668.1,190.8 668.6,192.0 669.0,192.1 669.1,192.9 670.5,192.9 670.8,193.0 669.9,194.3 669.3,194.4 668.9,195.9 667.4,197.7 667.1,197.3 667.8,195.7 667.2,194.7 667.1,194.3 668.0,193.6 668.3,192.6 667.8,191.2ZM666.0,196.1 666.8,197.1 666.6,198.0 665.4,199.7 664.9,200.8 663.8,201.6 663.1,203.3 662.6,204.0 661.4,204.8 660.5,204.3 659.9,203.7 661.0,202.3 661.9,201.1 663.6,199.7 664.6,198.3 665.3,196.9ZM626.4,179.0 626.8,178.9 628.7,177.8 630.5,177.4 632.4,177.0 633.1,175.4 634.0,175.2 635.2,173.8 636.3,172.6 637.4,173.2 638.5,173.3 638.9,171.8 639.7,171.1 640.8,170.6 643.0,171.0 643.9,171.1 643.2,172.2 642.8,173.4 644.2,174.2 645.5,175.4 646.4,175.4 647.1,173.4 647.3,171.5 648.1,170.0 648.7,171.4 648.8,172.8 649.9,173.4 650.2,175.4 650.4,176.6 651.7,177.4 652.2,179.0 653.1,179.8 654.1,181.4 654.3,183.0 654.3,184.2 653.5,186.3 652.4,187.9 651.4,188.8 650.5,190.3 650.0,191.5 648.5,191.8 647.2,192.7 646.5,192.1 645.5,192.2 644.2,192.2 643.2,191.9 642.8,190.7 642.4,189.9 642.2,188.9 642.3,187.9 641.6,188.7 641.2,189.7 640.6,189.5 640.4,188.7 639.7,187.7 638.4,187.1 636.4,186.7 634.1,187.3 632.6,188.0 632.1,188.6 629.6,188.6 628.0,189.5 626.6,189.5 626.0,188.9 626.7,187.1 626.7,185.5 626.3,183.4 625.9,182.2 626.5,180.6ZM645.5,195.1 646.6,195.7 647.9,195.3 647.4,197.4 646.2,199.3 645.6,199.1 645.4,197.7Z" fill="#fff" stroke="#fff" stroke-width="0.5" stroke-linejoin="round"/></g>
</svg>
<div class="lab" style="left:121.8px;top:215.7px;">殭屍網路</div><div class="bar" style="left:120.5px;top:225.8px;width:114.7px;"></div><div class="pc" style="left:205.2px;width:26.5px;top:226.1px;">31%</div>
<div class="lab en" style="left:121.8px;top:238.3px;">Infostealer</div><div class="bar" style="left:120.5px;top:248.5px;width:77.7px;"></div><div class="pc" style="left:168.2px;width:26.5px;top:248.8px;">21%</div>
<div class="lab" style="left:121.8px;top:261.1px;">加密貨幣挖礦軟體</div><div class="bar" style="left:120.5px;top:271.2px;width:71.1px;"></div><div class="pc" style="left:161.6px;width:26.5px;top:271.5px;">19%</div>
<div class="lab" style="left:121.8px;top:283.9px;">銀行惡意軟體</div><div class="bar" style="left:120.5px;top:294.0px;width:71.1px;"></div><div class="pc" style="left:161.6px;width:26.5px;top:294.3px;">19%</div>
<div class="lab" style="left:121.8px;top:306.6px;">手機惡意軟體</div><div class="bar" style="left:120.5px;top:316.7px;width:53.1px;"></div><div class="pc" style="left:143.6px;width:26.5px;top:317.0px;">14%</div>
<div class="lab" style="left:121.8px;top:329.3px;">勒索軟體</div><div class="bar" style="left:120.5px;top:339.4px;width:30.3px;"></div><div class="pc" style="left:120.8px;width:26.5px;top:339.7px;">8%</div>
<div class="lab" style="left:264.8px;top:215.7px;">殭屍網路</div><div class="bar" style="left:263.5px;top:225.8px;width:128.3px;"></div><div class="pc" style="left:361.8px;width:26.5px;top:226.1px;">25%</div>
<div class="lab en" style="left:264.8px;top:238.3px;">Infostealer</div><div class="bar" style="left:263.5px;top:248.5px;width:93.2px;"></div><div class="pc" style="left:326.7px;width:26.5px;top:248.8px;">18%</div>
<div class="lab" style="left:264.8px;top:261.1px;">加密貨幣挖礦軟體</div><div class="bar" style="left:263.5px;top:271.2px;width:77.5px;"></div><div class="pc" style="left:311.0px;width:26.5px;top:271.5px;">15%</div>
<div class="lab" style="left:264.8px;top:283.9px;">銀行惡意軟體</div><div class="bar" style="left:263.5px;top:294.0px;width:77.5px;"></div><div class="pc" style="left:311.0px;width:26.5px;top:294.3px;">15%</div>
<div class="lab" style="left:264.8px;top:306.6px;">手機惡意軟體</div><div class="bar" style="left:263.5px;top:316.7px;width:72.3px;"></div><div class="pc" style="left:305.8px;width:26.5px;top:317.0px;">14%</div>
<div class="lab" style="left:264.8px;top:329.3px;">勒索軟體</div><div class="bar" style="left:263.5px;top:339.4px;width:31.9px;"></div><div class="pc" style="left:265.4px;width:26.5px;top:339.7px;">6%</div>
<div class="lab" style="left:414.3px;top:215.7px;">殭屍網路</div><div class="bar" style="left:413.0px;top:225.8px;width:127.9px;"></div><div class="pc" style="left:510.9px;width:26.5px;top:226.1px;">30%</div>
<div class="lab en" style="left:414.3px;top:238.3px;">Infostealer</div><div class="bar" style="left:413.0px;top:248.5px;width:98.8px;"></div><div class="pc" style="left:481.8px;width:26.5px;top:248.8px;">23%</div>
<div class="lab" style="left:414.3px;top:261.1px;">加密貨幣挖礦軟體</div><div class="bar" style="left:413.0px;top:271.2px;width:82.3px;"></div><div class="pc" style="left:465.3px;width:26.5px;top:271.5px;">19%</div>
<div class="lab" style="left:414.3px;top:283.9px;">銀行惡意軟體</div><div class="bar" style="left:413.0px;top:294.0px;width:81.8px;"></div><div class="pc" style="left:464.8px;width:26.5px;top:294.3px;">19%</div>
<div class="lab" style="left:414.3px;top:306.6px;">手機惡意軟體</div><div class="bar" style="left:413.0px;top:316.7px;width:60.5px;"></div><div class="pc" style="left:443.5px;width:26.5px;top:317.0px;">14%</div>
<div class="lab" style="left:414.3px;top:329.3px;">勒索軟體</div><div class="bar" style="left:413.0px;top:339.4px;width:34.9px;"></div><div class="pc" style="left:417.9px;width:26.5px;top:339.7px;">8%</div>
<div class="lab" style="left:574.3px;top:215.7px;">殭屍網路</div><div class="bar" style="left:573.0px;top:225.8px;width:110.3px;"></div><div class="pc" style="left:653.3px;width:26.5px;top:226.1px;">42%</div>
<div class="lab en" style="left:574.3px;top:238.3px;">Infostealer</div><div class="bar" style="left:573.0px;top:248.5px;width:77.1px;"></div><div class="pc" style="left:620.1px;width:26.5px;top:248.8px;">30%</div>
<div class="lab" style="left:574.3px;top:261.1px;">加密貨幣挖礦軟體</div><div class="bar" style="left:573.0px;top:271.2px;width:64.4px;"></div><div class="pc" style="left:607.4px;width:26.5px;top:271.5px;">25%</div>
<div class="lab" style="left:574.3px;top:283.9px;">銀行惡意軟體</div><div class="bar" style="left:573.0px;top:294.0px;width:64.4px;"></div><div class="pc" style="left:607.4px;width:26.5px;top:294.3px;">25%</div>
<div class="lab" style="left:574.3px;top:306.6px;">手機惡意軟體</div><div class="bar" style="left:573.0px;top:316.7px;width:33.0px;"></div><div class="pc" style="left:576.0px;width:26.5px;top:317.0px;">13%</div>
<div class="lab" style="left:574.3px;top:329.3px;">勒索軟體</div><div class="bar" style="left:573.0px;top:339.4px;width:26.2px;"></div><div class="pc" style="left:569.2px;width:26.5px;top:339.7px;">10%</div>
<svg width="750" height="422" viewBox="0 0 750 422">
<defs><radialGradient id="lg" cx="0.4" cy="0.35" r="0.75"><stop offset="0" stop-color="#ee4f9b"/><stop offset="0.55" stop-color="#dc1c70"/><stop offset="1" stop-color="#c4105a"/></radialGradient></defs>
<circle cx="647.4" cy="393.9" r="7.6" fill="url(#lg)"/>
<circle cx="644.1" cy="392.9" r="1.5" fill="#ffd9ee" opacity="0.95"/><circle cx="648.3" cy="395.9" r="1.6" fill="#ffe3f2" opacity="0.95"/><circle cx="648.6" cy="391.6" r="0.9" fill="#ffc4e2" opacity="0.7"/>
<circle cx="656.2" cy="385.3" r="4.7" fill="#fff"/><circle cx="656.2" cy="385.3" r="3" fill="#0a0a0a"/>
</svg>
<div class="abs" style="left:659.7px;top:390.1px;font-size:9.5px;line-height:12px;font-weight:700;color:#1a1a1a;-webkit-text-stroke:0.3px #1a1a1a;white-space:nowrap;letter-spacing:-0.5px;">CHECK</div>
<div class="abs" style="left:694.5px;top:390.1px;font-size:9.5px;line-height:12px;font-weight:700;color:#e83e9a;-webkit-text-stroke:0.3px #e83e9a;white-space:nowrap;letter-spacing:0.5px;">POINT</div>
</body></html>
